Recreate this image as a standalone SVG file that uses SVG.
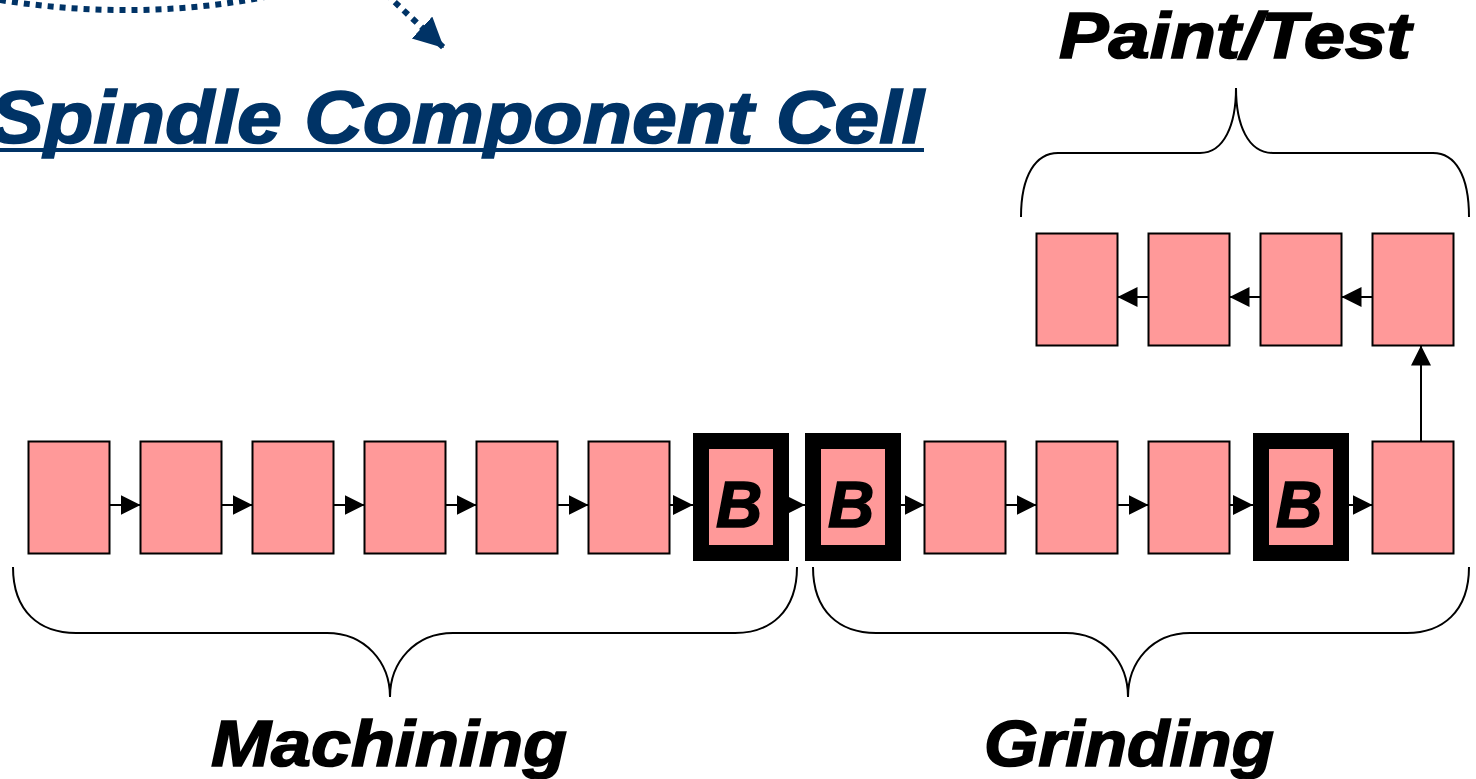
<svg xmlns="http://www.w3.org/2000/svg" width="1476" height="779" viewBox="0 0 1476 779">
<defs>
<style>
.box{fill:#FF9999;stroke:#000;stroke-width:2}
.bbox{fill:#FF9999;stroke:#000;stroke-width:16}
.conn{stroke:#000;stroke-width:2;fill:none}
.brace{stroke:#000;stroke-width:2;fill:none}
.lbl{font-family:"Liberation Sans",Arial,sans-serif;font-weight:bold;font-style:italic;fill:#000;stroke:#000;stroke-width:1.6}
.title{font-family:"Liberation Sans",Arial,sans-serif;font-weight:bold;font-style:italic;fill:#003366;stroke:#003366;stroke-width:1.6}
.dots{stroke:#003366;stroke-width:6;fill:none;stroke-dasharray:6 6}
</style>
<marker id="ah" markerUnits="userSpaceOnUse" markerWidth="20" markerHeight="20" refX="20" refY="10" orient="auto">
<path d="M0,0 L20,10 L0,20 z" fill="#000"/>
</marker>
<marker id="ahb" markerUnits="userSpaceOnUse" markerWidth="32" markerHeight="32" refX="30" refY="15" orient="auto">
<path d="M0,0 L30,15 L0,30 z" fill="#003366"/>
</marker>
</defs>

<g id="title-decor">
<path class="dots" d="M 0 0 Q 140 22 270 -4"/>
<path class="dots" d="M 386 -6 L 444 48" marker-end="url(#ahb)"/>
</g>
<g id="title">
<text class="title" x="-10" y="143" font-size="74" textLength="934" lengthAdjust="spacingAndGlyphs">Spindle Component Cell</text>
<rect x="0" y="148" width="924" height="4" fill="#003366"/>
</g>

<g id="braces">
<path class="brace" d="M 13 567 C 13 612 40 633 76 633 L 327 633 C 365 633 390 662 390 697 C 390 662 415 633 453 633 L 735 633 C 770 633 797 612 797 567"/>
<path class="brace" d="M 813 567 C 813 612 840 633 876 633 L 1066 633 C 1104 633 1128 662 1128 697 C 1128 662 1152 633 1190 633 L 1407 633 C 1442 633 1469 612 1469 567"/>
<path class="brace" d="M 1021 217 C 1021 175 1036 153 1058 153 L 1200 153 C 1224 153 1236 125 1236 88 C 1236 125 1248 153 1273 153 L 1433 153 C 1455 153 1469 175 1469 217"/>
</g>

<g id="labels">
<text class="lbl" x="1235" y="58" font-size="64" text-anchor="middle" textLength="352" lengthAdjust="spacingAndGlyphs">Paint/Test</text>
<text class="lbl" x="389" y="766" font-size="64" text-anchor="middle" textLength="356" lengthAdjust="spacingAndGlyphs">Machining</text>
<text class="lbl" x="1129" y="766" font-size="64" text-anchor="middle" textLength="290" lengthAdjust="spacingAndGlyphs">Grinding</text>
</g>

<g id="m1"><rect class="box" x="28.5" y="441.5" width="81" height="112"/></g>
<g id="m2"><rect class="box" x="140.5" y="441.5" width="81" height="112"/></g>
<g id="m3"><rect class="box" x="252.5" y="441.5" width="81" height="112"/></g>
<g id="m4"><rect class="box" x="364.5" y="441.5" width="81" height="112"/></g>
<g id="m5"><rect class="box" x="476.5" y="441.5" width="81" height="112"/></g>
<g id="m6"><rect class="box" x="588.5" y="441.5" width="81" height="112"/></g>
<g id="mb"><rect class="bbox" x="701" y="441" width="80" height="112"/><text class="lbl" x="739" y="527" font-size="64" text-anchor="middle">B</text></g>
<g id="gb1"><rect class="bbox" x="813" y="441" width="80" height="112"/><text class="lbl" x="851" y="527" font-size="64" text-anchor="middle">B</text></g>
<g id="g1"><rect class="box" x="924.5" y="441.5" width="81" height="112"/></g>
<g id="g2"><rect class="box" x="1036.5" y="441.5" width="81" height="112"/></g>
<g id="g3"><rect class="box" x="1148.5" y="441.5" width="81" height="112"/></g>
<g id="gb2"><rect class="bbox" x="1261" y="441" width="80" height="112"/><text class="lbl" x="1299" y="527" font-size="64" text-anchor="middle">B</text></g>
<g id="g4"><rect class="box" x="1372.5" y="441.5" width="81" height="112"/></g>
<g id="p1"><rect class="box" x="1372.5" y="233.5" width="81" height="112"/></g>
<g id="p2"><rect class="box" x="1260.5" y="233.5" width="81" height="112"/></g>
<g id="p3"><rect class="box" x="1148.5" y="233.5" width="81" height="112"/></g>
<g id="p4"><rect class="box" x="1036.5" y="233.5" width="81" height="112"/></g>

<g id="connectors">
<line class="conn" x1="109.5" y1="505" x2="140.5" y2="505" marker-end="url(#ah)"/>
<line class="conn" x1="221.5" y1="505" x2="252.5" y2="505" marker-end="url(#ah)"/>
<line class="conn" x1="333.5" y1="505" x2="364.5" y2="505" marker-end="url(#ah)"/>
<line class="conn" x1="445.5" y1="505" x2="476.5" y2="505" marker-end="url(#ah)"/>
<line class="conn" x1="557.5" y1="505" x2="588.5" y2="505" marker-end="url(#ah)"/>
<line class="conn" x1="669.5" y1="505" x2="693" y2="505" marker-end="url(#ah)"/>
<line class="conn" x1="789" y1="505" x2="805" y2="505" marker-end="url(#ah)"/>
<line class="conn" x1="901" y1="505" x2="924.5" y2="505" marker-end="url(#ah)"/>
<line class="conn" x1="1005.5" y1="505" x2="1036.5" y2="505" marker-end="url(#ah)"/>
<line class="conn" x1="1117.5" y1="505" x2="1148.5" y2="505" marker-end="url(#ah)"/>
<line class="conn" x1="1229.5" y1="505" x2="1253" y2="505" marker-end="url(#ah)"/>
<line class="conn" x1="1349" y1="505" x2="1372.5" y2="505" marker-end="url(#ah)"/>
<line class="conn" x1="1421" y1="441.5" x2="1421" y2="345.5" marker-end="url(#ah)"/>
<line class="conn" x1="1372.5" y1="297" x2="1341.5" y2="297" marker-end="url(#ah)"/>
<line class="conn" x1="1260.5" y1="297" x2="1229.5" y2="297" marker-end="url(#ah)"/>
<line class="conn" x1="1148.5" y1="297" x2="1117.5" y2="297" marker-end="url(#ah)"/>
</g>
</svg>
